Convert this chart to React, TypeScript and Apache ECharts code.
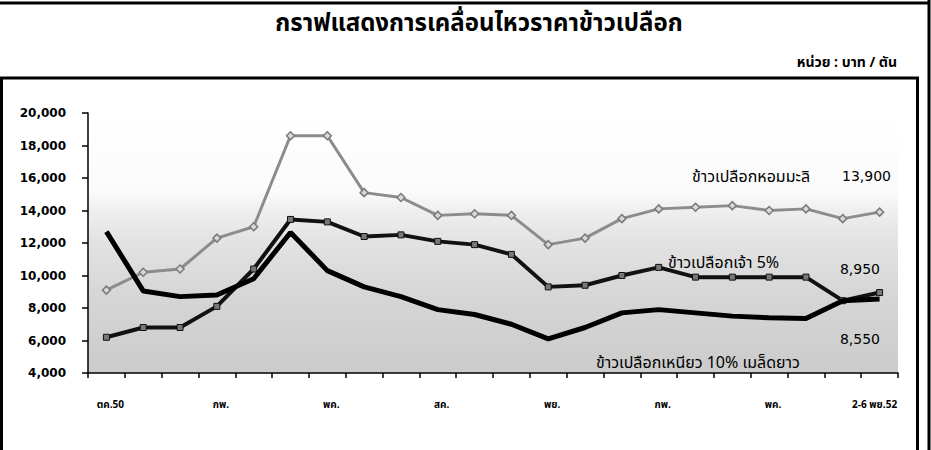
import React, { useEffect, useRef } from "react";
import * as echarts from "echarts";

const tickLabels = ["ตค.50", "", "", "กพ.", "", "", "พค.", "", "", "สค.", "", "", "พย.", "", "", "กพ.", "", "", "พค.", "", "", "2-6 พย.52"];

const seriesNames = ["ข้าวเปลือกหอมมะลิ", "ข้าวเปลือกเจ้า 5%", "ข้าวเปลือกเหนียว 10% เมล็ดยาว"];

const hommali = [9100, 10200, 10400, 12300, 13000, 18600, 18600, 15100, 14800, 13700, 13800, 13700, 11900, 12300, 13500, 14100, 14200, 14300, 14000, 14100, 13500, 13900];
const jao5 = [6200, 6800, 6800, 8100, 10400, 13450, 13300, 12400, 12500, 12100, 11900, 11300, 9300, 9400, 10000, 10500, 9900, 9900, 9900, 9900, 8450, 8950];
const niao10 = [12700, 9050, 8700, 8800, 9800, 12650, 10300, 9300, 8700, 7900, 7600, 7000, 6100, 6800, 7700, 7900, 7700, 7500, 7400, 7350, 8450, 8550];

const yTicks = { min: 4000, max: 20000, interval: 2000 };

const TITLE = "กราฟแสดงการเคลื่อนไหวราคาข้าวเปลือก";
const UNIT = "หน่วย : บาท / ตัน";

const fmt = (v: number) => v.toLocaleString("en-US");
const THAI_FONT = "Tahoma, 'Noto Sans Thai', 'Noto Sans', 'DejaVu Sans', sans-serif";

export default function App() {
  const ref = useRef<HTMLDivElement>(null);
  useEffect(() => {
    if (!ref.current) return;
    const chart = echarts.init(ref.current, undefined, { renderer: "svg" });
    const labelStyle = { fill: "#000", fontFamily: THAI_FONT, fontSize: 16 };
    const numStyle = { fill: "#000", fontFamily: "'DejaVu Sans', sans-serif", fontSize: 14 };
    const xLab = { color: "#000", fontSize: 10, fontWeight: "bold" as const, fontFamily: THAI_FONT };
    chart.setOption({
      animation: false,
      backgroundColor: "#fff",
      grid: {
        left: 88,
        right: 33,
        top: 113,
        bottom: 77,
        show: true,
        borderWidth: 0,
        backgroundColor: new echarts.graphic.LinearGradient(0, 0, 0, 1, [
          { offset: 0, color: "#ffffff" },
          { offset: 0.3, color: "#fbfbfb" },
          { offset: 0.38, color: "#eeeeee" },
          { offset: 0.5, color: "#e2e2e2" },
          { offset: 0.7, color: "#d6d6d6" },
          { offset: 1, color: "#cbcbcb" },
        ]),
      },
      xAxis: {
        type: "category",
        data: tickLabels,
        boundaryGap: true,
        axisLine: { lineStyle: { color: "#000", width: 1.5 } },
        axisTick: { show: true, interval: 0, length: 5, lineStyle: { color: "#000", width: 1.5 } },
        axisLabel: {
          interval: 0,
          margin: 27,
          ...xLab,
          formatter: (v: string, i: number) => (v ? (i === tickLabels.length - 1 ? `{last|${v}}` : `{n|${v}}`) : ""),
          rich: {
            n: { ...xLab, padding: [0, 0, 0, 8] },
            last: { ...xLab, padding: [0, 10, 0, 0] },
          },
        },
        splitLine: { show: false },
      },
      yAxis: {
        type: "value",
        min: yTicks.min,
        max: yTicks.max,
        interval: yTicks.interval,
        axisLine: { show: true, lineStyle: { color: "#000", width: 1.5 } },
        axisTick: { show: true, length: 6, lineStyle: { color: "#000", width: 1.5 } },
        axisLabel: {
          margin: 22,
          color: "#000",
          fontSize: 12,
          fontWeight: "bold",
          fontFamily: "'DejaVu Sans', sans-serif",
          formatter: (v: number) => fmt(v),
        },
        splitLine: { show: false },
      },
      series: [
        {
          name: seriesNames[0],
          type: "line",
          data: hommali,
          lineStyle: { color: "#8c8c8c", width: 3 },
          symbol: "diamond",
          symbolSize: 8,
          itemStyle: { color: "#d8d8d8", borderColor: "#7a7a7a", borderWidth: 1.5 },
          z: 3,
        },
        {
          name: seriesNames[1],
          type: "line",
          data: jao5,
          lineStyle: { color: "#111", width: 4 },
          symbol: "rect",
          symbolSize: 6,
          itemStyle: { color: "#777", borderColor: "#111", borderWidth: 1 },
          z: 4,
        },
        {
          name: seriesNames[2],
          type: "line",
          data: niao10,
          lineStyle: { color: "#000", width: 5 },
          symbol: "none",
          z: 5,
        },
      ],
      graphic: [
        { type: "line", shape: { x1: 0, y1: 3, x2: 930, y2: 3 }, style: { stroke: "#000", lineWidth: 3 } },
        { type: "line", shape: { x1: 929, y1: 0, x2: 929, y2: 450 }, style: { stroke: "#000", lineWidth: 3 } },
        { type: "rect", shape: { x: 1.5, y: 78, width: 916, height: 400 }, style: { fill: "none", stroke: "#000", lineWidth: 3 } },
        {
          type: "text",
          x: 479,
          y: 24,
          style: { text: TITLE, fill: "#000", fontFamily: THAI_FONT, fontSize: 24, fontWeight: "bold", align: "center", verticalAlign: "middle" },
        },
        {
          type: "text",
          x: 897,
          y: 62,
          style: { text: UNIT, fill: "#000", fontFamily: THAI_FONT, fontSize: 14, fontWeight: "bold", align: "right", verticalAlign: "middle" },
        },
        { type: "text", x: 692, y: 177, style: { ...labelStyle, text: seriesNames[0], align: "left", verticalAlign: "middle" } },
        { type: "text", x: 891, y: 176, style: { ...numStyle, text: fmt(hommali[hommali.length - 1]), align: "right", verticalAlign: "middle" } },
        { type: "text", x: 668, y: 263, style: { ...labelStyle, text: seriesNames[1], align: "left", verticalAlign: "middle" } },
        { type: "text", x: 880, y: 269, style: { ...numStyle, text: fmt(jao5[jao5.length - 1]), align: "right", verticalAlign: "middle" } },
        { type: "text", x: 880, y: 339, style: { ...numStyle, text: fmt(niao10[niao10.length - 1]), align: "right", verticalAlign: "middle" } },
        { type: "text", x: 596, y: 363, style: { ...labelStyle, text: seriesNames[2], align: "left", verticalAlign: "middle" } },
      ],
    });
    return () => chart.dispose();
  }, []);
  return <div ref={ref} style={{ width: 931, height: 450, position: "fixed", left: 0, top: 0 }} />;
}
